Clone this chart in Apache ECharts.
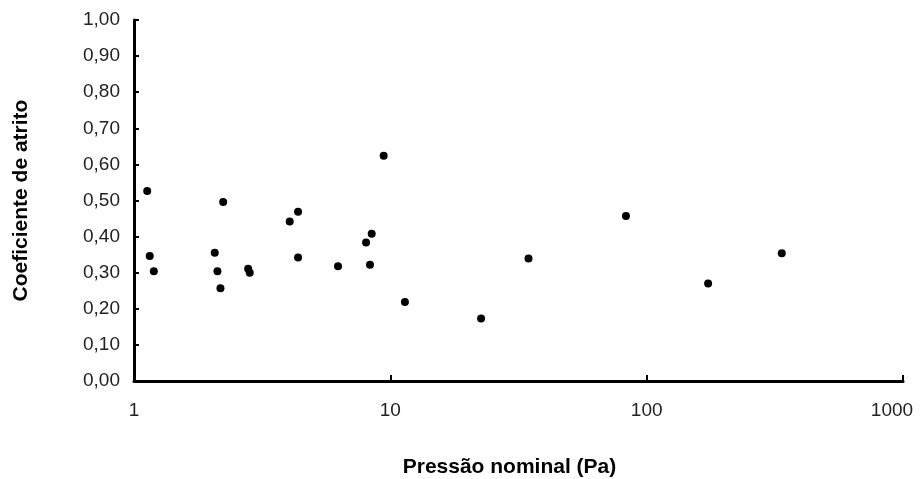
<!DOCTYPE html>
<html>
<head>
<meta charset="utf-8">
<script src="https://cdn.jsdelivr.net/npm/echarts@6/dist/echarts.min.js"></script>
<style>html,body{margin:0;padding:0;background:#fff}#c{width:921px;height:479px}</style>
</head>
<body>
<div id="c"></div>
<script>
var pressure = [1.126, 1.152, 1.195, 2.065, 2.116, 2.174, 2.228, 2.788, 2.828, 4.05, 4.365, 4.365, 6.25, 8.04, 8.46, 8.33, 9.42, 11.4, 22.6, 34.6, 83.0, 173.7, 336.6];
var friction = [0.526, 0.346, 0.304, 0.355, 0.304, 0.257, 0.496, 0.311, 0.300, 0.442, 0.469, 0.342, 0.318, 0.384, 0.408, 0.322, 0.624, 0.219, 0.173, 0.339, 0.457, 0.270, 0.354];
var xTicks = [1, 10, 100, 1000];
var xName = 'Pressão nominal (Pa)';
var yName = 'Coeficiente de atrito';

var points = pressure.map(function (p, i) { return [p, friction[i]]; });
var chart = echarts.init(document.getElementById('c'));
var font = 'Liberation Sans, Arial, sans-serif';
chart.setOption({
  animation: false,
  backgroundColor: '#fff',
  grid: { left: 134, right: 18, top: 20, bottom: 98, outerBoundsMode: 'none', containLabel: false },
  xAxis: {
    type: 'log', logBase: 10, min: xTicks[0], max: xTicks[xTicks.length - 1],
    name: xName, nameLocation: 'middle', nameGap: 76,
    nameTextStyle: { fontFamily: font, fontSize: 21, fontWeight: 'bold', color: '#000', padding: [0, 18, 0, 0] },
    axisLine: { lineStyle: { color: '#000', width: 3 } },
    axisTick: { inside: true, length: 6, lineStyle: { color: '#000', width: 2 } },
    minorTick: { show: false },
    axisLabel: {
      fontFamily: font, fontSize: 19, color: '#222', margin: 20,
      formatter: function (v) {
        var s = String(Math.round(v));
        return v >= xTicks[xTicks.length - 1] ? '{last|' + s + '}' : s;
      },
      rich: { last: { fontFamily: font, fontSize: 19, color: '#222', padding: [0, 22, 0, 0] } }
    },
    splitLine: { show: false }
  },
  yAxis: {
    type: 'value', min: 0, max: 1, interval: 0.1,
    name: yName, nameLocation: 'middle', nameGap: 102, nameRotate: 90,
    nameTextStyle: { fontFamily: font, fontSize: 21, fontWeight: 'bold', color: '#000' },
    axisLine: { show: true, lineStyle: { color: '#000', width: 3 } },
    axisTick: { show: true, inside: true, length: 5, lineStyle: { color: '#000', width: 2 } },
    axisLabel: { fontFamily: font, fontSize: 19, color: '#222', margin: 14,
      formatter: function (v) { return v.toFixed(2).replace('.', ','); } },
    splitLine: { show: false }
  },
  series: [{
    type: 'scatter', data: points, symbol: 'circle', symbolSize: 8,
    itemStyle: { color: '#000', opacity: 1 }
  }]
});
</script>
</body>
</html>
